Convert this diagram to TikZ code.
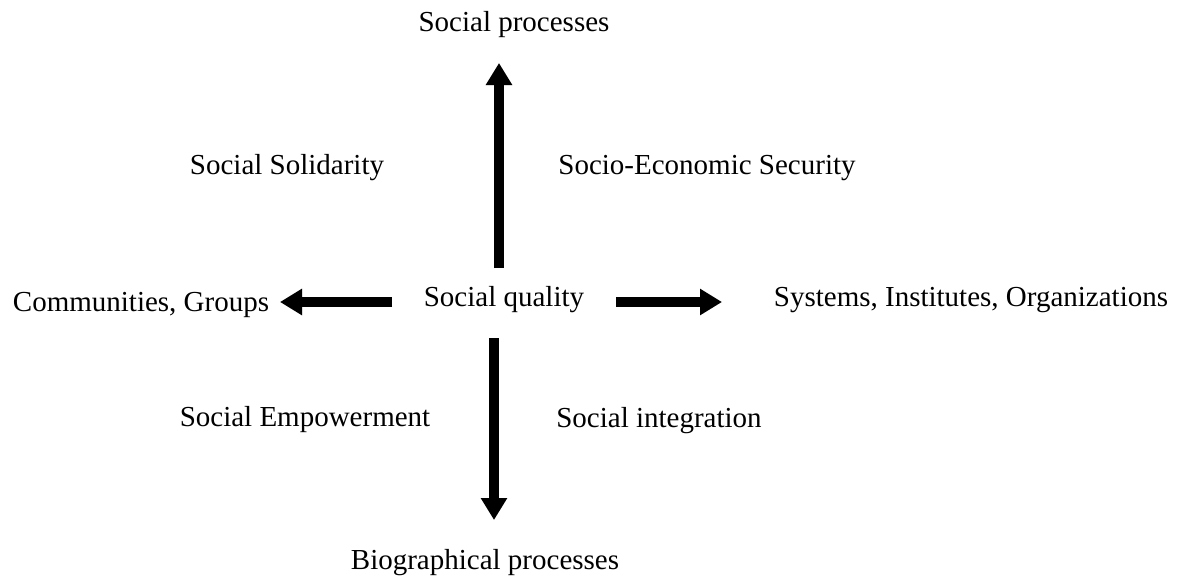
\documentclass[tikz,border=0pt]{standalone}
\usepackage{fontspec}
\setmainfont{Liberation Serif}
\usetikzlibrary{arrows.meta}
\begin{document}
\begin{tikzpicture}[x=1pt,y=-1pt,
  lbl/.style={anchor=base,inner sep=0pt,font=\fontsize{29}{34}\selectfont},
  bigarrow/.style={line width=9.5pt,-{Triangle[length=22pt,width=25pt]}},
  shadowarrow/.style={bigarrow,draw=black!25,opacity=0.6}]
\useasboundingbox (0,0) rectangle (1180,581);
\node[lbl] (top) at (514,31) {Social processes};
\node[lbl] (sol) at (287,174) {Social Solidarity};
\node[lbl] (ses) at (707,174) {Socio-Economic Security};
\node[lbl] (com) at (141,311) {Communities, Groups};
\node[lbl] (sq) at (504,306) {Social quality};
\node[lbl] (sys) at (971,306) {Systems, Institutes, Organizations};
\node[lbl] (emp) at (305,426) {Social Empowerment};
\node[lbl] (int) at (659,427) {Social integration};
\node[lbl] (bio) at (485,569) {Biographical processes};
\coordinate (us) at (499,268);
\coordinate (ue) at (499,63);
\coordinate (ds) at (494,338);
\coordinate (de) at (494,520);
\coordinate (ls) at (392,302);
\coordinate (le) at (280,302);
\coordinate (rs) at (616,302);
\coordinate (re) at (722,302);
\begin{scope}[shift={(3,4)}]
\draw[shadowarrow] (us) -- (ue);
\draw[shadowarrow] (ds) -- (de);
\draw[shadowarrow] (ls) -- (le);
\draw[shadowarrow] (rs) -- (re);
\end{scope}
\draw[bigarrow] (us) -- (ue);
\draw[bigarrow] (ds) -- (de);
\draw[bigarrow] (ls) -- (le);
\draw[bigarrow] (rs) -- (re);
\end{tikzpicture}
\end{document}
